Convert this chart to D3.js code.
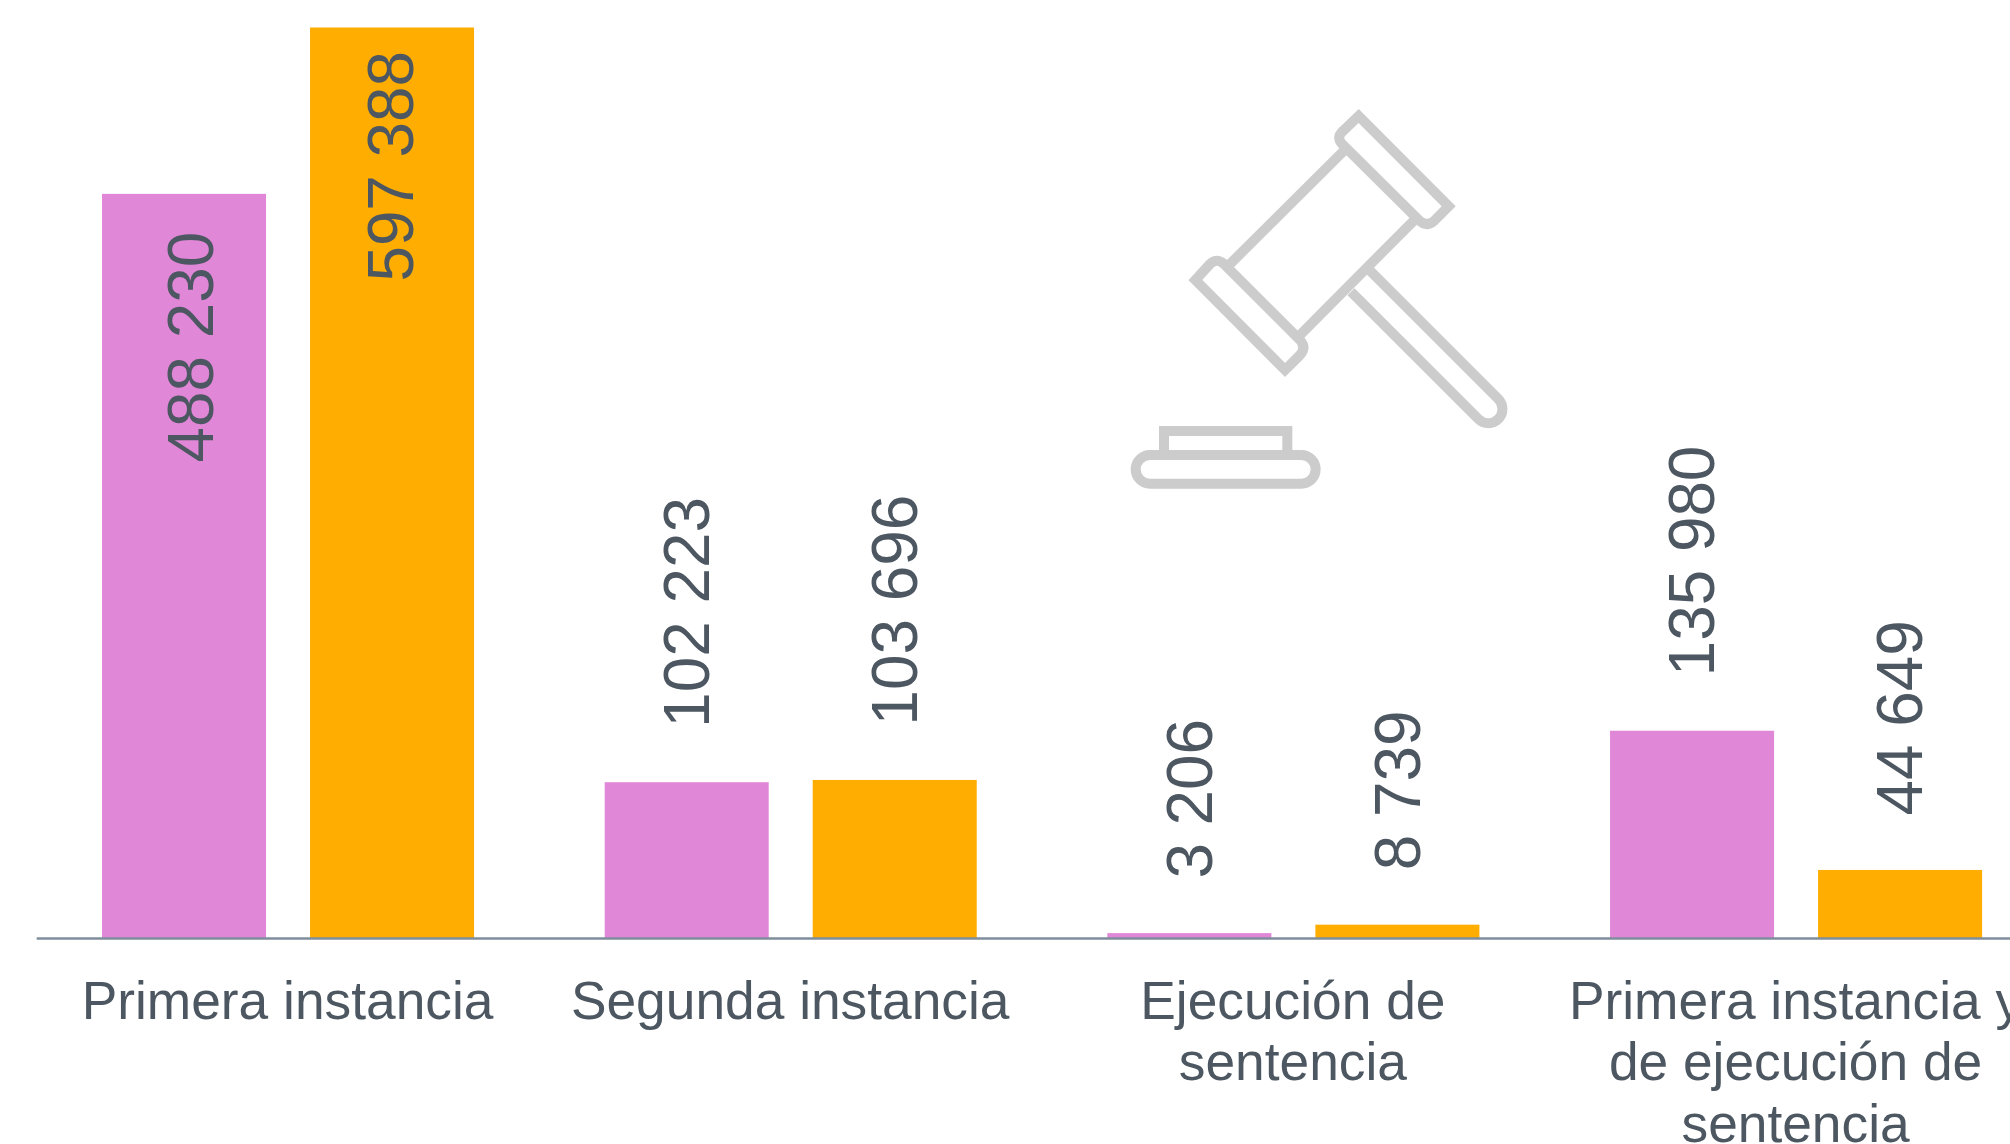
<!DOCTYPE html>
<html lang="es">
<head>
<meta charset="utf-8">
<script src="https://cdn.jsdelivr.net/npm/d3@7"></script>
<style>
html,body{margin:0;padding:0;background:#fff;overflow:hidden}
svg{display:block;font-family:"Liberation Sans",Arial,sans-serif}
</style>
</head>
<body>
<svg id="chart" width="2010" height="1144"></svg>
<script>
const categories = ["Primera instancia", "Segunda instancia", "Ejecución de sentencia", "Primera instancia y de ejecución de sentencia"];
const seriesNames = ["Serie A", "Serie B"];
const seriesA = [488230, 102223, 3206, 135980];
const seriesB = [597388, 103696, 8739, 44649];
const seriesColors = ["#E187D8", "#FFAD00"];

const svg = d3.select("#chart");
const textColor = "#4D5761";
const baseY = 938;
const fmt = d3.formatLocale({decimal: ",", thousands: " ", grouping: [3], currency: ["", ""]}).format(",d");

const x0 = d3.scaleBand().domain(categories).range([36.7, 2047.4]).padding(0);
const x1 = d3.scaleBand().domain(seriesNames).range([0, x0.bandwidth()]).paddingInner(0.2115).paddingOuter(0.314);
const y = d3.scaleLinear().domain([0, 597388]).range([baseY, 27.5]);

const rows = categories.flatMap((c, i) => [
  {c, s: seriesNames[0], v: seriesA[i], k: 0},
  {c, s: seriesNames[1], v: seriesB[i], k: 1}
]);

svg.append("g").selectAll("rect").data(rows).join("rect")
  .attr("x", d => x0(d.c) + x1(d.s))
  .attr("y", d => y(d.v))
  .attr("width", x1.bandwidth())
  .attr("height", d => baseY - y(d.v))
  .attr("fill", d => seriesColors[d.k]);

// value labels, rotated: inside the bar when tall, above it otherwise
const insideGap = [38, 23.5];
const insideShift = [6, -2];
const outsideGap = 54.5;
svg.append("g").selectAll("text").data(rows).join("text")
  .attr("transform", d => {
    const tall = d.v > 300000;
    const cx = x0(d.c) + x1(d.s) + x1.bandwidth() / 2 + (tall ? insideShift[d.k] : -1);
    const py = tall ? y(d.v) + insideGap[d.k] : y(d.v) - outsideGap;
    return `translate(${cx},${py}) rotate(-90) scale(1,1.025)`;
  })
  .attr("text-anchor", d => d.v > 300000 ? "end" : "start")
  .attr("dy", "0.355em")
  .attr("font-size", 63.8)
  .attr("fill", textColor)
  .text(d => fmt(d.v));

// axis
const axis = svg.append("g").attr("transform", `translate(0,${baseY + 0.5})`)
  .call(d3.axisBottom(x0).tickSize(0).tickPadding(0));
axis.select(".domain").remove();
axis.append("line").attr("x1", 36.7).attr("x2", 2010).attr("stroke", "#7F8E9C").attr("stroke-width", 2.5);
axis.selectAll(".tick text")
  .attr("font-size", 53.3)
  .attr("font-family", "'Liberation Sans',Arial,sans-serif")
  .attr("fill", textColor)
  .attr("text-anchor", "middle")
  .attr("y", 0).attr("dy", 0)
  .each(function (d) {
    const t = d3.select(this);
    const words = d.split(" ");
    t.text(null);
    let line = [], ts = t.append("tspan").attr("x", -0.5).attr("y", 80);
    let n = 0;
    for (const w of words) {
      line.push(w);
      ts.text(line.join(" "));
      if (ts.node().getComputedTextLength() > 480 && line.length > 1) {
        line.pop();
        ts.text(line.join(" "));
        line = [w];
        n++;
        ts = t.append("tspan").attr("x", -0.5).attr("y", 80 + n * 61.5).text(w);
      }
    }
  });

// gavel icon
const icon = svg.append("g")
  .attr("transform", "translate(1100,90) scale(0.33333)")
  .attr("fill", "none").attr("stroke", "#CCCCCC").attr("stroke-width", 30).attr("stroke-linejoin", "miter");
[
  "M776,78 L1046,349 L1003,392 Q980,412 958,392 L727,163 Q708,143 727,125 Z",
  "M286,570 L555,840 L600,795 Q620,772 600,750 L372,522 Q350,502 330,522 Z",
  "M740,174 L380,532",
  "M950,383 L592,743",
  "M811,543 L1195,927 A42.4,42.4 0 0 1 1135,987 L753,605",
  "M192,1095 V1023 H562 V1095",
  "M150,1095 H604 A43,43 0 0 1 604,1181 H150 A43,43 0 0 1 150,1095 Z"
].forEach(p => icon.append("path").attr("d", p));
</script>
</body>
</html>
